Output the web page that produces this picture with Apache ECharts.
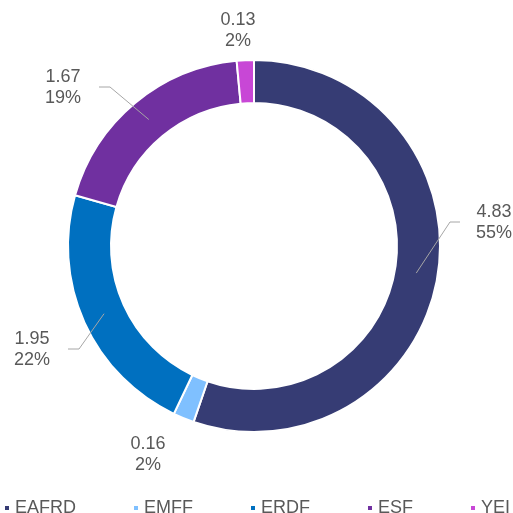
<!DOCTYPE html>
<html>
<head>
<meta charset="utf-8">
<script src="https://cdn.jsdelivr.net/npm/echarts@6/dist/echarts.min.js"></script>
<style>
  html, body { margin: 0; padding: 0; background: #fff; }
  #chart { width: 513px; height: 513px; }
</style>
</head>
<body>
<div id="chart"></div>
<script>
// data
const funds = ['EAFRD', 'EMFF', 'ERDF', 'ESF', 'YEI'];
const amounts = [4.83, 0.16, 1.95, 1.67, 0.13];
const shares = ['55%', '2%', '22%', '19%', '2%'];
const colors = ['#363C74', '#7FC0FF', '#0070C0', '#7030A0', '#C847D6'];

const total = amounts.reduce((a, b) => a + b, 0);

// ring geometry
const cx = 254, cy = 246, rIn = 143, rOut = 186;
// where each label sits (centre of the text block) and whether it gets a leader line
const labelSpots = [
  { x: 494, y: 223, line: true },
  { x: 148, y: 455, line: false },
  { x: 32, y: 350, line: true },
  { x: 63, y: 88, line: true },
  { x: 238, y: 31, line: false }
];

// leader line starts at the middle of the ring, at the slice's mid angle
function leaderStart(i) {
  let before = 0;
  for (let k = 0; k < i; k++) before += amounts[k];
  const frac = (before + amounts[i] / 2) / total;
  const a = Math.PI / 2 - frac * 2 * Math.PI;
  const rm = (rIn + rOut) / 2;
  return [cx + rm * Math.cos(a), cy - rm * Math.sin(a)];
}

const chart = echarts.init(document.getElementById('chart'));
chart.setOption({
  animation: false,
  textStyle: { fontFamily: 'Liberation Sans, Arial, sans-serif' },
  legend: {
    top: 499,
    left: 3,
    width: 700,
    padding: 0,
    icon: 'rect',
    itemWidth: 6,
    itemHeight: 6,
    itemGap: 56,
    textStyle: { fontSize: 18, color: '#595959' },
    data: funds
  },
  series: [
    // the ring itself
    {
      type: 'pie',
      z: 2,
      center: [cx, cy],
      radius: [rIn, rOut],
      startAngle: 90,
      clockwise: true,
      label: { show: false },
      labelLine: { show: false },
      itemStyle: { borderColor: '#fff', borderWidth: 2 },
      data: funds.map((f, i) => ({
        name: f,
        value: amounts[i],
        itemStyle: { color: colors[i] }
      }))
    },
    // transparent copy on top, carrying labels and leader lines
    {
      type: 'pie',
      z: 3,
      silent: true,
      legendHoverLink: false,
      center: [cx, cy],
      radius: [rIn, rOut],
      startAngle: 90,
      clockwise: true,
      avoidLabelOverlap: false,
      itemStyle: { color: 'rgba(0,0,0,0)', borderWidth: 0 },
      label: {
        show: true,
        position: 'outside',
        fontSize: 18,
        lineHeight: 21,
        color: '#595959',
        align: 'center',
        formatter: p => p.value.toFixed(2) + '\n' + shares[p.dataIndex]
      },
      labelLine: {
        show: true,
        lineStyle: { color: '#A6A6A6', width: 1 }
      },
      labelLayout: params => {
        const i = params.dataIndex;
        const s = labelSpots[i];
        const w = params.labelRect.width;
        const out = { x: s.x, y: s.y, align: 'center', verticalAlign: 'middle' };
        if (s.line) {
          const start = leaderStart(i);
          const right = s.x > cx;
          const endX = right ? s.x - w / 2 - 16 : s.x + w / 2 + 18;
          const bendX = right ? endX - 10 : endX + 11;
          const yy = s.y - 1;
          out.labelLinePoints = [start, [bendX, yy], [endX, yy]];
        }
        return out;
      },
      data: funds.map((f, i) => ({
        name: f,
        value: amounts[i],
        labelLine: { show: labelSpots[i].line }
      }))
    }
  ]
});
</script>
</body>
</html>
